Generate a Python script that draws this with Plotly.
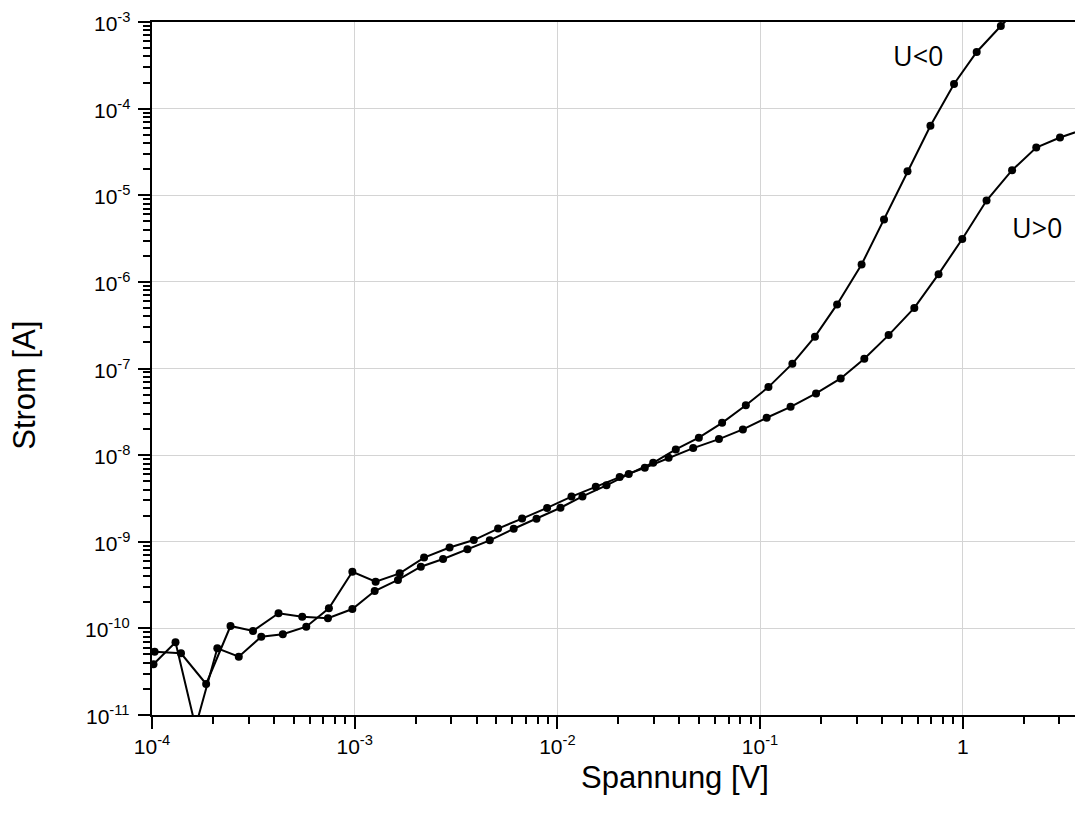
import plotly.graph_objects as go

# ---- data (V, A) ----
u_neg_v = [1.03e-4, 1.39e-4, 1.85e-4, 2.44e-4, 3.15e-4, 4.21e-4, 5.51e-4, 7.38e-4, 9.74e-4,
           1.255e-3, 1.635e-3, 2.12e-3, 2.73e-3, 3.60e-3, 4.64e-3, 6.09e-3, 7.89e-3,
           1.036e-2, 1.33e-2, 1.747e-2, 2.25e-2, 2.97e-2, 3.84e-2, 4.99e-2, 6.50e-2, 8.51e-2,
           0.110, 0.1444, 0.1866, 0.240, 0.317, 0.409, 0.534, 0.693, 0.906, 1.172, 1.542, 2.01]
u_neg_i = [5.38e-11, 5.16e-11, 2.28e-11, 1.065e-10, 9.33e-11, 1.493e-10, 1.364e-10, 1.307e-10, 1.673e-10,
           2.70e-10, 3.62e-10, 5.15e-10, 6.32e-10, 8.18e-10, 1.038e-9, 1.413e-9, 1.843e-9,
           2.47e-9, 3.34e-9, 4.48e-9, 6.04e-9, 8.16e-9, 1.162e-8, 1.590e-8, 2.36e-8, 3.76e-8,
           6.10e-8, 1.138e-7, 2.33e-7, 5.49e-7, 1.588e-6, 5.25e-6, 1.894e-5, 6.34e-5, 1.926e-4,
           4.51e-4, 8.99e-4, 1.7e-3]

u_pos_v = [1.017e-4, 1.306e-4, 1.64e-4, 2.10e-4, 2.68e-4, 3.46e-4, 4.42e-4, 5.77e-4, 7.46e-4,
           9.74e-4, 1.269e-3, 1.667e-3, 2.20e-3, 2.94e-3, 3.87e-3, 5.10e-3, 6.70e-3, 8.90e-3,
           1.174e-2, 1.547e-2, 2.03e-2, 2.70e-2, 3.54e-2, 4.68e-2, 6.27e-2, 8.23e-2,
           0.1078, 0.1415, 0.189, 0.250, 0.327, 0.431, 0.577, 0.760, 0.995, 1.311, 1.752,
           2.306, 3.02, 3.97]
u_pos_i = [3.85e-11, 6.91e-11, 7.3e-12, 5.89e-11, 4.71e-11, 8.02e-11, 8.54e-11, 1.046e-10, 1.705e-10,
           4.51e-10, 3.46e-10, 4.32e-10, 6.57e-10, 8.58e-10, 1.046e-9, 1.42e-9, 1.853e-9, 2.46e-9,
           3.32e-9, 4.31e-9, 5.58e-9, 7.14e-9, 9.32e-9, 1.206e-8, 1.532e-8, 1.982e-8,
           2.70e-8, 3.61e-8, 5.16e-8, 7.68e-8, 1.293e-7, 2.43e-7, 5.01e-7, 1.227e-6, 3.13e-6,
           8.70e-6, 1.945e-5, 3.55e-5, 4.64e-5, 5.78e-5]

x_exponents = [-4, -3, -2, -1, 0]
y_exponents = [-11, -10, -9, -8, -7, -6, -5, -4, -3]

FONT = "Arial, Liberation Sans, sans-serif"

def tick_label(e):
    return "1" if e == 0 else "10<sup>%d</sup>" % e

x_tickvals = [10.0 ** e for e in x_exponents]
x_ticktext = [tick_label(e) for e in x_exponents]
y_tickvals = [10.0 ** e for e in y_exponents]
y_ticktext = [tick_label(e) for e in y_exponents]

def minor_vals(exps, extra=1):
    vals = []
    for e in list(exps) + [exps[-1] + k for k in range(1, extra + 1)]:
        for m in range(2, 10):
            vals.append(m * 10.0 ** e)
    return vals

fig = go.Figure()
line_style = dict(color="black", width=2)
marker_style = dict(color="black", size=8)
fig.add_trace(go.Scatter(x=u_neg_v, y=u_neg_i, mode="lines+markers", name="U<0",
                         line=line_style, marker=marker_style, hoverinfo="skip"))
fig.add_trace(go.Scatter(x=u_pos_v, y=u_pos_i, mode="lines+markers", name="U>0",
                         line=line_style, marker=marker_style, hoverinfo="skip"))

axis_common = dict(
    type="log",
    showline=True, linecolor="black", linewidth=2,
    ticks="outside", ticklen=12, tickwidth=2, tickcolor="black",
    showgrid=True, gridcolor="#d4d4d4", gridwidth=1,
    zeroline=False,
    tickfont=dict(family=FONT, size=21, color="black"),
)

# y tick labels placed as text at each decade (right edge a few px left of the tick)
y_label_annotations = [
    dict(text=t, xref="paper", yref="y", x=-20 / 923, y=e, xanchor="right", yanchor="middle",
         showarrow=False, font=dict(family=FONT, size=21, color="black"))
    for e, t in zip(y_exponents, y_ticktext)
]

fig.update_layout(
    width=1075, height=818,
    margin=dict(l=152, r=0, t=22, b=103),
    paper_bgcolor="white", plot_bgcolor="white",
    showlegend=False,
    xaxis=dict(axis_common, range=[-4, 0.554], mirror=True,
               tickmode="array", tickvals=x_tickvals, ticktext=x_ticktext,
               minor=dict(ticks="outside", ticklen=7, tickwidth=1.5, tickcolor="black",
                          tickmode="array", tickvals=minor_vals(x_exponents), showgrid=False)),
    yaxis=dict(axis_common, range=[-11, -3], showticklabels=False,
               tickmode="array", tickvals=y_tickvals,
               minor=dict(ticks="outside", ticklen=7, tickwidth=1.5, tickcolor="black",
                          tickmode="array", tickvals=minor_vals(y_exponents[:-1], 0), showgrid=False)),
    annotations=y_label_annotations + [
        dict(text="Spannung [V]", xref="paper", yref="paper", x=0.567, y=-0.09,
             xanchor="center", yanchor="middle", showarrow=False,
             font=dict(family=FONT, size=31, color="black")),
        dict(text="Strom [A]", xref="paper", yref="paper", x=-0.138, y=0.476,
             xanchor="center", yanchor="middle", textangle=-90, showarrow=False,
             font=dict(family=FONT, size=31, color="black")),
        dict(text="U<0", xref="paper", yref="paper", x=(918 - 152) / 923, y=(715 - 55) / 693,
             xanchor="center", yanchor="middle", showarrow=False,
             font=dict(family="Open Sans, sans-serif", size=27, color="black")),
        dict(text="U>0", xref="paper", yref="paper", x=(1037 - 152) / 923, y=(715 - 228) / 693,
             xanchor="center", yanchor="middle", showarrow=False,
             font=dict(family="Open Sans, sans-serif", size=27, color="black")),
    ],
)

fig.write_html("out.html", config={"displayModeBar": False})
